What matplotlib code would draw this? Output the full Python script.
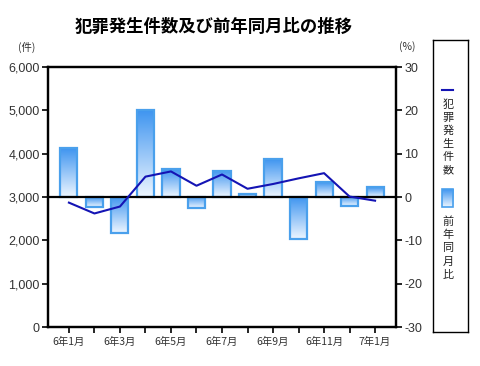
import matplotlib
matplotlib.use("Agg")
import matplotlib.pyplot as plt
import numpy as np
from matplotlib.patches import Rectangle
from matplotlib.colors import LinearSegmentedColormap

plt.rcParams['font.family'] = ['Liberation Sans', 'Noto Sans CJK JP', 'DejaVu Sans']
CJK = ['Noto Sans CJK JP', 'DejaVu Sans']

months = ["6年1月", "6年2月", "6年3月", "6年4月", "6年5月", "6年6月", "6年7月",
          "6年8月", "6年9月", "6年10月", "6年11月", "6年12月", "7年1月"]
counts = [2870, 2620, 2780, 3470, 3590, 3260, 3520, 3190, 3300, 3430, 3550, 3010, 2915]
yoy = [11.2, -2.2, -8.4, 20.0, 6.4, -2.6, 6.1, 0.6, 8.7, -9.6, 3.4, -2.1, 2.2]
left_ticks = [0, 1000, 2000, 3000, 4000, 5000, 6000]
right_ticks = [-30, -20, -10, 0, 10, 20, 30]

fig = plt.figure(figsize=(4.8, 3.66), dpi=100)
ax = fig.add_axes([48/480, 1-327/366, 348/480, 260/366])
ax2 = ax.twinx()
ax.set_zorder(ax2.get_zorder() + 1)
ax.patch.set_visible(False)

x = np.arange(len(months))
bw = 0.67
# row 0 = bottom (light), last row = top (dark) with origin='lower'
grad = np.linspace(1, 0, 256).reshape(-1, 1)
cmap = LinearSegmentedColormap.from_list("g", ["#3f95f0", "#eef6ff"])

def grad_rect(a, x0, y0, w, h, z=2):
    im = a.imshow(grad, extent=(x0, x0 + w, y0, y0 + h), origin='lower',
                  aspect='auto', cmap=cmap, vmin=0, vmax=1, zorder=z)
    im.set_clip_path(Rectangle((x0, y0), w, h, transform=a.transData))
    return im

bars = ax2.bar(x, yoy, width=bw, color="none", edgecolor="#4aa0ec", linewidth=1.6, zorder=3)
for b in bars:
    bx, by = b.get_x(), b.get_y()
    w, h = b.get_width(), b.get_height()
    y0, y1 = min(by, by + h), max(by, by + h)
    grad_rect(ax2, bx, y0, w, y1 - y0)

ax2.set_ylim(-30, 30)
ax2.set_yticks(right_ticks)
ax2.set_yticklabels([str(t) for t in right_ticks])

ax.plot(x, counts, color="#1414b4", linewidth=1.5, zorder=5)
ax.axhline(3000, color="black", linewidth=1.6, zorder=4)
ax.set_ylim(0, 6000)
ax.set_yticks(left_ticks)
ax.set_yticklabels([f"{t:,}" for t in left_ticks])
ax.set_xlim(-0.82, len(months) - 1 + 0.82)
ax2.set_xlim(-0.82, len(months) - 1 + 0.82)
ax.set_xticks(x)
ax.set_xticklabels([m if i % 2 == 0 else "" for i, m in enumerate(months)],
                   fontsize=7.5, family=CJK, color="#333333")

for a in (ax, ax2):
    for s in a.spines.values():
        s.set_linewidth(1.6)
        s.set_color("black")
    a.tick_params(axis='y', labelsize=9, labelcolor="#333333", length=4, width=1.2, pad=2)
ax.tick_params(axis='x', length=4, width=1.2, pad=3)
ax2.tick_params(axis='x', length=0)

fig.text(214/480, 1-27/366, "犯罪発生件数及び前年同月比の推移",
         ha='center', va='center', fontsize=12.5, fontweight='bold', family=CJK)
fig.text(27/480, 1-47/366, "(件)", ha='center', va='center', fontsize=7.5,
         family=CJK, color="#333333")
fig.text(407/480, 1-47/366, "(%)", ha='center', va='center', fontsize=7.5,
         family=CJK, color="#333333")

# legend box (coordinates in pixels from figure top, converted)
L, T, R, B = 433, 40, 468, 332
lax = fig.add_axes([L/480, 1-B/366, (R-L)/480, (B-T)/366])
lax.set_xlim(0, R - L)
lax.set_ylim(0, B - T)
lax.set_xticks([]); lax.set_yticks([])
for s in lax.spines.values():
    s.set_linewidth(1.0)
    s.set_color("black")

def ly(y_px):
    return B - y_px

lax.plot([441.7 - L, 453.3 - L], [ly(90), ly(90)], color="#1414b4", linewidth=1.5)
for i, ch in enumerate("犯罪発生件数"):
    lax.text(448 - L, ly(104.5 + 13.2 * i), ch, ha='center', va='center', fontsize=8,
             family=CJK, color="#222222")
grad_rect(lax, 441.7 - L, ly(207), 11.3, 18)
lax.add_patch(Rectangle((441.7 - L, ly(207)), 11.3, 18, facecolor='none',
                        edgecolor="#4aa0ec", linewidth=1.2, zorder=3))
for i, ch in enumerate("前年同月比"):
    lax.text(448 - L, ly(221.5 + 13.4 * i), ch, ha='center', va='center', fontsize=8,
             family=CJK, color="#222222")
lax.set_xlim(0, R - L)
lax.set_ylim(0, B - T)

fig.savefig("out.png", dpi=100)
